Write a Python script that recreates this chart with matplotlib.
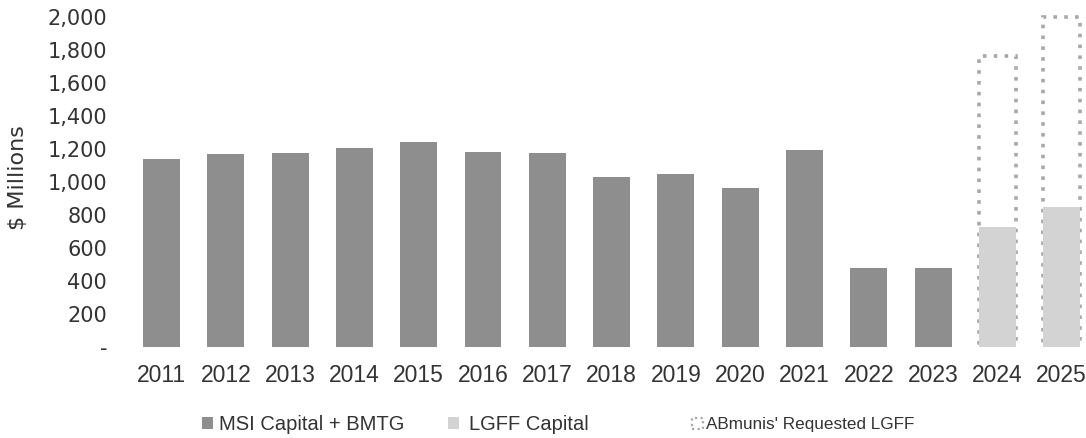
import matplotlib
matplotlib.use("Agg")
import matplotlib.pyplot as plt
from matplotlib.patches import Patch
from matplotlib.ticker import FuncFormatter, MultipleLocator

years = ["2011", "2012", "2013", "2014", "2015", "2016", "2017", "2018",
         "2019", "2020", "2021", "2022", "2023", "2024", "2025"]
msi_bmtg = [1140, 1170, 1176, 1206, 1242, 1182, 1176, 1030, 1046, 964, 1194, 480, 480, 0, 0]
lgff = [0, 0, 0, 0, 0, 0, 0, 0, 0, 0, 0, 0, 0, 725, 850]
requested = [0, 0, 0, 0, 0, 0, 0, 0, 0, 0, 0, 0, 0, 1765, 2000]

labels = ["MSI Capital + BMTG", "LGFF Capital", "ABmunis' Requested LGFF"]

c_msi = "#8e8e8e"
c_lgff = "#d3d3d3"
c_req_edge = "#a8a8a8"
txt = "#333333"

W, H = 1086, 438
fig = plt.figure(figsize=(W / 100, H / 100), dpi=100)
ax = fig.add_axes([129.4 / W, 91 / H, 956 / W, 338.25 / H])

x = list(range(len(years)))
bw = 0.575
req_x = [i for i, v in enumerate(requested) if v > 0]
req_h = [requested[i] for i in req_x]
ax.bar(req_x, req_h, width=bw, facecolor="white",
       edgecolor=c_req_edge, linewidth=2.6, linestyle=(0, (1, 2)), zorder=1)
ax.bar(x, msi_bmtg, width=bw, color=c_msi, zorder=2)
ax.bar(x, lgff, width=bw, color=c_lgff, zorder=2, linewidth=0)

ax.set_xlim(-0.5, 14.37)
ax.set_ylim(0, 2050)
ax.yaxis.set_major_locator(MultipleLocator(200))
ax.yaxis.set_major_formatter(FuncFormatter(lambda v, p: "-" if v == 0 else f"{v:,.0f}"))
ax.set_xticks(x)
ax.set_xticklabels(years, fontsize=16.5, family="Liberation Sans", color=txt)
ax.tick_params(axis="x", length=0, pad=12)
ax.tick_params(axis="y", length=0, pad=16, labelsize=15, labelcolor=txt)
for t in ax.get_yticklabels():
    t.set_family("DejaVu Sans")
ax.get_yticklabels()[0].set_color("#aaaaaa")
for s in ax.spines.values():
    s.set_visible(False)

ax.set_ylabel("$ Millions", fontsize=16, family="DejaVu Sans", color=txt)
ax.yaxis.set_label_coords((28 - 129.4) / 956, 0.5)

handles = [
    Patch(facecolor=c_msi, edgecolor="none"),
    Patch(facecolor=c_lgff, edgecolor="none"),
    Patch(facecolor="white", edgecolor=c_req_edge, linestyle=(0, (1, 1.5)), linewidth=1.6),
]
xpos = [202, 448, 692]
sizes = [14.5, 14.5, 12.3]
pads = [0.3, 0.5, 0.15]
for h, lab, xp, sz, pd in zip(handles, labels, xpos, sizes, pads):
    leg = fig.legend([h], [lab], loc="center left", bbox_to_anchor=(xp / W, 1 - 425 / H),
                     frameon=False, handlelength=0.55 * 14.5 / sz, handleheight=0.55 * 14.5 / sz,
                     handletextpad=pd, borderaxespad=0, borderpad=0,
                     prop={"family": "Liberation Sans", "size": sz})
    for t in leg.get_texts():
        t.set_color(txt)

fig.savefig("out.png", dpi=100)
